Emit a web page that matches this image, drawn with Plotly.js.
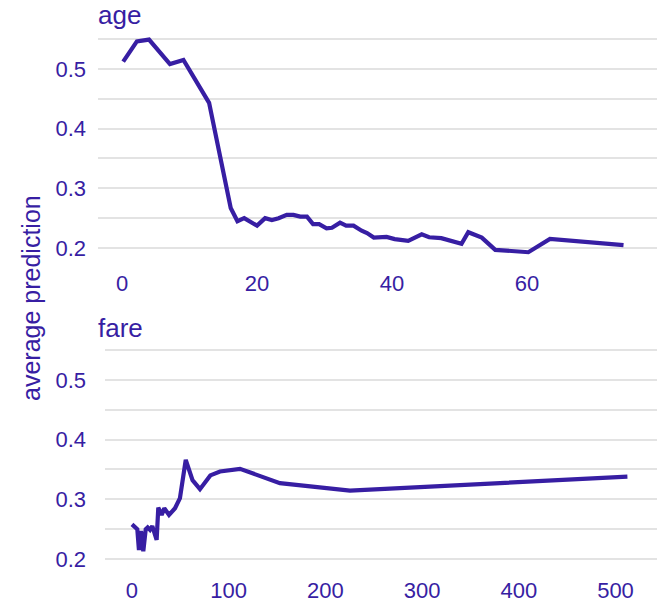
<!DOCTYPE html>
<html>
<head>
<meta charset="utf-8">
<script src="https://cdn.plot.ly/plotly-3.0.1.min.js"></script>
<style>html,body{margin:0;padding:0;background:#fff;}#chart{width:657px;height:609px;}</style>
</head>
<body>
<div id="chart"></div>
<script>
// Partial dependence: age
const ageX = [0.17, 2.2, 4.0, 7.1, 9.1, 12.9, 16.1, 17.1, 18.1, 20.0, 21.2, 22.2, 23.2, 24.4, 25.4, 26.4, 27.4, 28.3, 29.2, 30.3, 31.1, 32.3, 33.2, 34.3, 35.5, 36.3, 37.3, 39.2, 40.4, 41.7, 42.4, 44.4, 45.5, 47.3, 48.8, 50.3, 51.3, 53.3, 55.3, 60.2, 63.4, 74.3];
const ageY = [0.512, 0.546, 0.549, 0.508, 0.515, 0.443, 0.267, 0.245, 0.250, 0.2375, 0.250, 0.247, 0.250, 0.2555, 0.2555, 0.2526, 0.2526, 0.240, 0.240, 0.233, 0.234, 0.2425, 0.2375, 0.2375, 0.229, 0.225, 0.2175, 0.2186, 0.215, 0.212, 0.212, 0.223, 0.218, 0.2165, 0.211, 0.207, 0.2265, 0.2175, 0.197, 0.193, 0.2153, 0.205];

// Partial dependence: fare
const fareX = [0, 5.5, 7.2, 9.3, 11.7, 14.2, 16.2, 18.6, 21, 25.5, 27.2, 30.7, 33.4, 38.3, 44.5, 49.6, 55.6, 62.6, 70.3, 81, 91, 111.7, 153, 225.4, 512.3];
const fareY = [0.258, 0.250, 0.215, 0.247, 0.213, 0.250, 0.253, 0.249, 0.255, 0.232, 0.286, 0.274, 0.285, 0.274, 0.285, 0.302, 0.366, 0.332, 0.317, 0.340, 0.3465, 0.351, 0.327, 0.3145, 0.338];

const panelTitles = ["age", "fare"];
const yTitle = "average prediction";

const C = "#371ea3";
const GRID = "#e3e3e3";
const FONT = "Liberation Sans, Arial, sans-serif";

const traces = [
  {x: ageX, y: ageY, type: "scatter", mode: "lines", xaxis: "x", yaxis: "y",
   line: {color: C, width: 4.2}, hoverinfo: "skip"},
  {x: fareX, y: fareY, type: "scatter", mode: "lines", xaxis: "x2", yaxis: "y2",
   line: {color: C, width: 4.2}, hoverinfo: "skip"}
];

const L = 98, R = 0, T = 33, B = 38, W = 657, H = 609;
const pw = W - L - R, ph = H - T - B;

function yax(domain) {
  return {
    domain: domain, range: [0.18, 0.56], dtick: 0.1, tick0: 0,
    showgrid: true, gridcolor: GRID, gridwidth: 2, zeroline: false,
    showline: false, ticks: "", tickfont: {family: FONT, size: 22, color: C},
    minor: {dtick: 0.05, tick0: 0, showgrid: true, gridcolor: GRID, gridwidth: 2, ticks: ""},
    fixedrange: true
  };
}
function xax(domain, range, dtick, anchor, tl) {
  return {
    domain: domain, range: range, dtick: dtick, tick0: 0, anchor: anchor,
    showgrid: false, zeroline: false, showline: false,
    ticks: "outside", ticklen: tl, tickcolor: "rgba(0,0,0,0)",
    tickfont: {family: FONT, size: 22, color: C}, fixedrange: true
  };
}

const topDom = [(H - B - 260) / ph, 1];
const botDom = [0, (H - B - 344) / ph];
const bLeft = (105 - L) / pw;

const ya = yax(topDom);
ya.ticklabelstandoff = 11;
const yb = yax(botDom);
yb.ticklabelstandoff = 18;
yb.anchor = "x2";

const layout = {
  width: W, height: H,
  margin: {l: L, r: R, t: T, b: B},
  paper_bgcolor: "#fff", plot_bgcolor: "#fff",
  showlegend: false,
  font: {family: FONT, color: C},
  xaxis: xax([0, 1], [-3.56, 79.26], 20, "y", 4),
  yaxis: ya,
  xaxis2: xax([bLeft, 1], [-27.9, 542.9], 100, "y2", 0),
  yaxis2: yb,
  annotations: [
    {text: panelTitles[0], xref: "paper", yref: "paper", x: -0.004, y: topDom[1], xanchor: "left", yanchor: "bottom",
     yshift: 1, showarrow: false, font: {family: FONT, size: 26, color: C}},
    {text: panelTitles[1], xref: "paper", yref: "paper", x: bLeft - 0.016, y: botDom[1], xanchor: "left", yanchor: "bottom",
     yshift: -1, showarrow: false, font: {family: FONT, size: 26, color: C}},
    {text: yTitle, xref: "paper", yref: "paper", x: (31 - L) / pw, y: (H - B - 298) / ph, xanchor: "center", yanchor: "middle",
     textangle: -90, showarrow: false, font: {family: FONT, size: 25, color: C}}
  ]
};

Plotly.newPlot("chart", traces, layout, {displayModeBar: false, staticPlot: true});
</script>
</body>
</html>
